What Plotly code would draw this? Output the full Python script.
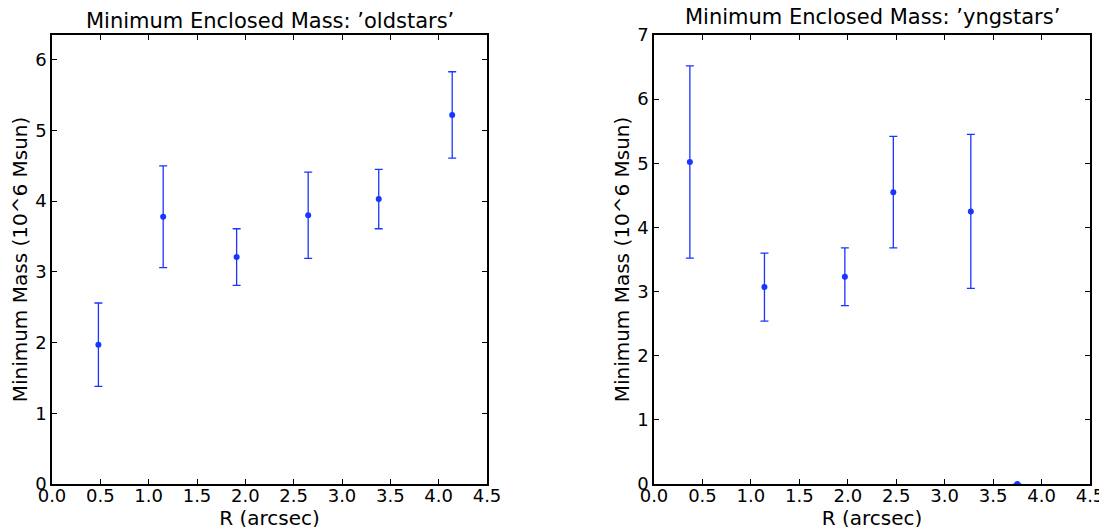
import plotly.graph_objects as go

# Data: oldstars
old_r = [0.48, 1.15, 1.91, 2.65, 3.38, 4.14]
old_m = [1.97, 3.78, 3.21, 3.80, 4.03, 5.22]
old_err = [0.59, 0.72, 0.40, 0.61, 0.42, 0.61]

# Data: yngstars
yng_r = [0.37, 1.14, 1.97, 2.47, 3.27, 3.75]
yng_m = [5.02, 3.07, 3.23, 4.55, 4.25, 0.0]
yng_err = [1.50, 0.53, 0.45, 0.87, 1.20, 0.0]

titles = ["Minimum Enclosed Mass: \u2019oldstars\u2019", "Minimum Enclosed Mass: \u2019yngstars\u2019"]
xticks = [0.0, 0.5, 1.0, 1.5, 2.0, 2.5, 3.0, 3.5, 4.0, 4.5]
xticklabels = ["0.0", "0.5", "1.0", "1.5", "2.0", "2.5", "3.0", "3.5", "4.0", "4.5"]
old_yticks = [0, 1, 2, 3, 4, 5, 6]
yng_yticks = [0, 1, 2, 3, 4, 5, 6, 7]

BLUE = "#1a35ff"
FONT = "DejaVu Sans"
W, H = 1107, 527
OFF = 8  # page body margin

fig = go.Figure()
fig.add_trace(go.Scatter(
    x=old_r, y=old_m, mode="markers",
    marker=dict(color=BLUE, size=6),
    error_y=dict(type="data", array=old_err, color=BLUE, thickness=1.3, width=4),
    xaxis="x", yaxis="y", showlegend=False))
fig.add_trace(go.Scatter(
    x=yng_r, y=yng_m, mode="markers",
    marker=dict(color=BLUE, size=6),
    error_y=dict(type="data", array=yng_err, color=BLUE, thickness=1.3, width=4),
    xaxis="x2", yaxis="y2", showlegend=False))

ydom = [1 - (484 - OFF) / H, 1 - (35 - OFF) / H]
x1dom = [(52 - OFF) / W, (487 - OFF) / W]
x2dom = [(654 - OFF) / W, (1090 - OFF) / W]

axis_common = dict(
    showline=True, linecolor="black", linewidth=1.5, mirror="allticks",
    ticks="inside", ticklen=5, tickwidth=1, tickcolor="black",
    showgrid=False, zeroline=False, automargin=False,
    tickfont=dict(family=FONT, size=18, color="black"),
    title_font=dict(family=FONT, size=20, color="black"),
)

fig.update_layout(
    width=W, height=H,
    margin=dict(l=0, r=0, t=0, b=0),
    paper_bgcolor="white", plot_bgcolor="white",
    font=dict(family=FONT, color="black"),
    xaxis=dict(domain=x1dom, anchor="y", range=[0, 4.5], tickvals=xticks, ticktext=xticklabels,
               ticklabelstandoff=-5, title=dict(text="R (arcsec)", standoff=0), **axis_common),
    yaxis=dict(domain=ydom, anchor="x", range=[0, 6.35], tickvals=old_yticks,
               title=dict(text="Minimum Mass (10^6 Msun)", standoff=9), **axis_common),
    xaxis2=dict(domain=x2dom, anchor="y2", range=[0, 4.5], tickvals=xticks, ticktext=xticklabels,
                ticklabelstandoff=-5, title=dict(text="R (arcsec)", standoff=0), **axis_common),
    yaxis2=dict(domain=ydom, anchor="x2", range=[0, 7], tickvals=yng_yticks,
                title=dict(text="Minimum Mass (10^6 Msun)", standoff=2), **axis_common),
    annotations=[
        dict(text=titles[0], x=(x1dom[0] + x1dom[1]) / 2, y=1 - (21 - OFF) / H, xref="paper", yref="paper",
             showarrow=False, xanchor="center", yanchor="middle",
             font=dict(family=FONT, size=21, color="black")),
        dict(text=titles[1], x=(x2dom[0] + x2dom[1]) / 2, y=1 - (17 - OFF) / H, xref="paper", yref="paper",
             showarrow=False, xanchor="center", yanchor="middle",
             font=dict(family=FONT, size=21, color="black")),
    ],
)

fig.write_html("out.html")
